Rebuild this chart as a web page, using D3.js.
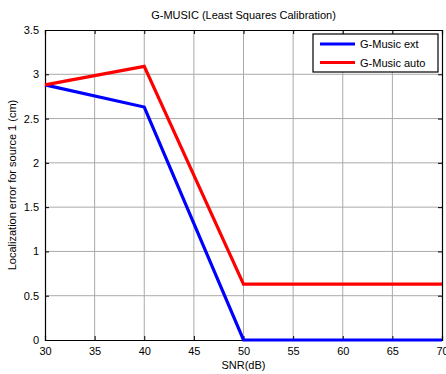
<!DOCTYPE html>
<html>
<head>
<meta charset="utf-8">
<script src="https://cdn.jsdelivr.net/npm/d3@7"></script>
<style>
body { margin: 0; background: #fff; }
text { font-family: "Liberation Sans", Arial, sans-serif; }
</style>
</head>
<body>
<script>
const snr = [30, 40, 50, 60, 70]
const extErr = [2.88, 2.63, 0, 0, 0]
const autoErr = [2.88, 3.09, 0.63, 0.63, 0.63]
const xTicks = [30, 35, 40, 45, 50, 55, 60, 65, 70]
const yTicks = [0, 0.5, 1, 1.5, 2, 2.5, 3, 3.5]
const seriesNames = ['G-Music ext', 'G-Music auto']
const seriesColors = ['#0000ff', '#ff0000']

const W = 446, H = 374
const mLeft = 45, mRight = 442, mTop = 30, mBottom = 340

const svg = d3.select('body').append('svg')
    .attr('width', W)
    .attr('height', H)

const x = d3.scaleLinear().domain([30, 70]).range([mLeft, mRight])
const y = d3.scaleLinear().domain([0, 3.5]).range([mBottom, mTop])

// grid
svg.append('g').selectAll('line').data(xTicks.slice(1, -1)).join('line')
    .attr('x1', d => x(d)).attr('x2', d => x(d))
    .attr('y1', mTop).attr('y2', mBottom)
    .attr('stroke', '#aaa').attr('stroke-width', 1)
svg.append('g').selectAll('line').data(yTicks.slice(1, -1)).join('line')
    .attr('y1', d => y(d)).attr('y2', d => y(d))
    .attr('x1', mLeft).attr('x2', mRight)
    .attr('stroke', '#aaa').attr('stroke-width', 1)

// axes, ticks pointing inward
const axB = svg.append('g').attr('transform', `translate(0,${mBottom})`)
    .call(d3.axisBottom(x).tickValues(xTicks).tickSize(-4).tickPadding(7).tickFormat(d3.format('d')))
const axT = svg.append('g').attr('transform', `translate(0,${mTop})`)
    .call(d3.axisTop(x).tickValues(xTicks).tickSize(-4).tickFormat(''))
const axL = svg.append('g').attr('transform', `translate(${mLeft},0)`)
    .call(d3.axisLeft(y).tickValues(yTicks).tickSize(-4).tickPadding(6).tickFormat(d => d))
const axR = svg.append('g').attr('transform', `translate(${mRight},0)`)
    .call(d3.axisRight(y).tickValues(yTicks).tickSize(-4).tickFormat(''))

for (const a of [axB, axT, axL, axR]) {
    a.select('.domain').attr('stroke', '#000').attr('stroke-width', 1.2)
    a.selectAll('.tick line').attr('stroke', '#000')
    a.selectAll('text').attr('font-size', 11).attr('fill', '#000')
        .attr('font-family', '"Liberation Sans", Arial, sans-serif')
}

// lines
const line = d3.line().x((d, i) => x(snr[i])).y(d => y(d))
;[extErr, autoErr].forEach((vals, k) => {
    svg.append('path')
        .datum(vals)
        .attr('d', line)
        .attr('fill', 'none')
        .attr('stroke', seriesColors[k])
        .attr('stroke-width', 3.2)
        .attr('stroke-linejoin', 'miter')
})

// title and labels
svg.append('text')
    .attr('x', (mLeft + mRight) / 2).attr('y', 19)
    .attr('text-anchor', 'middle').attr('font-size', 11)
    .text('G-MUSIC (Least Squares Calibration)')

svg.append('text')
    .attr('x', (mLeft + mRight) / 2).attr('y', 369)
    .attr('text-anchor', 'middle').attr('font-size', 11)
    .text('SNR(dB)')

svg.append('text')
    .attr('transform', `translate(16,${(mTop + mBottom) / 2}) rotate(-90)`)
    .attr('text-anchor', 'middle').attr('font-size', 11)
    .text('Localization error for source 1 (cm)')

// legend
const lg = svg.append('g')
lg.append('rect')
    .attr('x', 313).attr('y', 34)
    .attr('width', 125).attr('height', 38)
    .attr('fill', '#fff').attr('stroke', '#000').attr('stroke-width', 1.2)
seriesNames.forEach((name, k) => {
    const ly = 44 + k * 18.5
    lg.append('line')
        .attr('x1', 320).attr('x2', 355)
        .attr('y1', ly).attr('y2', ly)
        .attr('stroke', seriesColors[k]).attr('stroke-width', 3.2)
    lg.append('text')
        .attr('x', 360).attr('y', ly + 4)
        .attr('font-size', 11)
        .text(name)
})
</script>
</body>
</html>
